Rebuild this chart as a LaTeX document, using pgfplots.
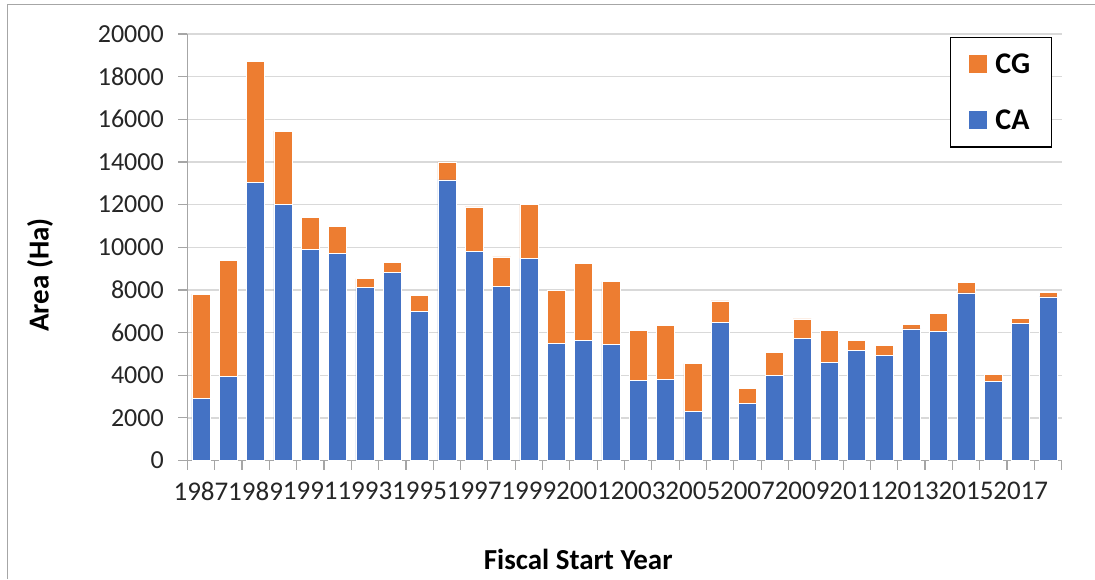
\documentclass[border=0pt]{standalone}
\usepackage{fontspec}
\setmainfont{Carlito}
\usepackage{pgfplots}
\usepackage{pgfplotstable}
\pgfplotsset{compat=1.18}
\definecolor{cablue}{HTML}{4472C4}
\definecolor{cgorange}{HTML}{ED7D31}
\definecolor{gridgray}{HTML}{D9D9D9}
\definecolor{axgray}{HTML}{A6A6A6}
\definecolor{ticktext}{HTML}{262626}
\pgfplotstableread{
x year CA CG
0 1987 2930 4870
1 1988 3950 5430
2 1989 13050 5650
3 1990 12020 3430
4 1991 9900 1500
5 1992 9720 1270
6 1993 8100 430
7 1994 8810 490
8 1995 7010 720
9 1996 13160 840
10 1997 9800 2090
11 1998 8150 1400
12 1999 9480 2520
13 2000 5490 2490
14 2001 5630 3600
15 2002 5460 2930
16 2003 3760 2340
17 2004 3820 2520
18 2005 2320 2220
19 2006 6480 1000
20 2007 2680 700
21 2008 3990 1080
22 2009 5740 900
23 2010 4600 1500
24 2011 5150 470
25 2012 4910 470
26 2013 6170 230
27 2014 6040 850
28 2015 7860 480
29 2016 3710 340
30 2017 6420 230
31 2018 7670 230
}\datatable
\begin{document}
\begin{tikzpicture}
\useasboundingbox (0pt,0pt) rectangle (1095pt,579pt);
\fill[white] (0pt,0pt) rectangle (1095pt,579pt);
\draw[axgray, line width=1.2pt] (7.5pt,0pt) -- (7.5pt,574.5pt) -- (1095pt,574.5pt);
\begin{axis}[
  at={(187.3pt,118.5pt)}, anchor=south west,
  scale only axis, width=874.4pt, height=426.5pt,
  ybar stacked, bar width=18pt,
  xmin=-0.5, xmax=31.5, ymin=0, ymax=20000,
  axis x line*=bottom, axis y line*=left,
  axis line style={axgray, line width=1.2pt},
  tick style={axgray, line width=1.2pt},
  tick align=outside,
  major tick length=9pt, minor tick length=9pt,
  ytick={0,2000,...,20000},
  xtick={0,2,...,30},
  xticklabels={1987,1989,1991,1993,1995,1997,1999,2001,2003,2005,2007,2009,2011,2013,2015,2017},
  major x tick style={draw=none},
  minor xtick={-0.5,0.5,...,31.5},
  minor x tick style={axgray, line width=1.2pt},
  ymajorgrids, grid style={gridgray, line width=1.3pt},
  scaled y ticks=false,
  /pgf/number format/assume math mode=true,
  /pgf/number format/set thousands separator={},
  ticklabel style={text=ticktext},
  xticklabel style={yshift=-9pt, font=\fontsize{27}{27}\selectfont},
  yticklabel style={xshift=-11pt, font=\fontsize{26}{26}\selectfont},
  ylabel={\textbf{Area (Ha)}},
  ylabel style={at={(axis description cs:-0.1685,0.435)}, anchor=center, rotate=0, font=\fontsize{29}{29}\selectfont},
  xlabel={\textbf{Fiscal Start Year}},
  xlabel style={at={(axis description cs:0.447,-0.233)}, anchor=center, font=\fontsize{29}{29}\selectfont},
  legend style={at={(axis description cs:0.872,0.993)}, anchor=north west,
    draw=black, line width=1.3pt, font=\bfseries\fontsize{30}{30}\selectfont,
    inner xsep=19pt, inner ysep=14pt, row sep=31pt,
    /tikz/every odd column/.style={column sep=6pt}},
  legend cell align=left,
  reverse legend,
  legend image code/.code={\fill[#1, draw=none] (0pt,-9pt) rectangle (18pt,9pt);},
]
\addplot[fill=cablue, draw=white, line width=0.6pt] table[x=x, y=CA] {\datatable};
\addplot[fill=cgorange, draw=white, line width=0.6pt] table[x=x, y=CG] {\datatable};
\legend{CA,CG}
\end{axis}
\end{tikzpicture}
\end{document}
